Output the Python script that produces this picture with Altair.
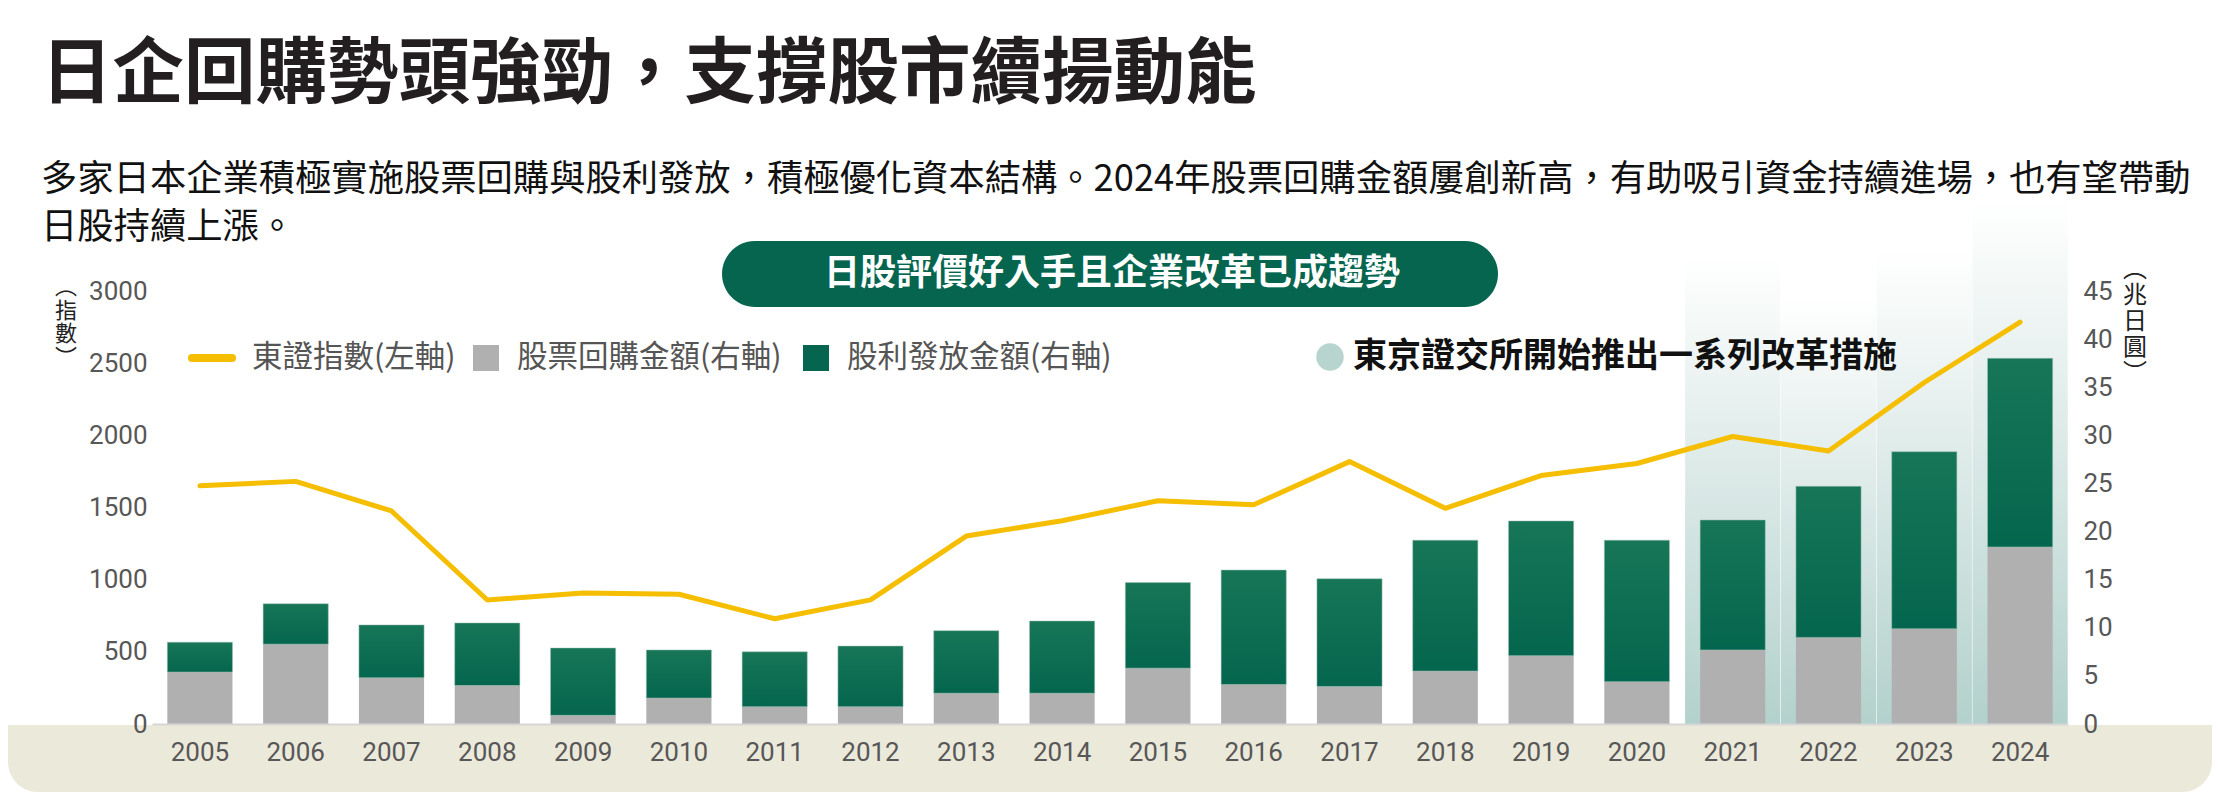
import altair as alt
import pandas as pd

# ---------------- data ----------------
years = list(range(2005, 2025))
topix = [1650, 1681, 1476, 859, 908, 899, 729, 860, 1302, 1408,
         1547, 1519, 1818, 1494, 1721, 1805, 1992, 1892, 2366, 2785]
buyback = [5.4, 8.3, 4.8, 4.0, 0.9, 2.7, 1.8, 1.8, 3.2, 3.2,
           5.8, 4.1, 3.9, 5.5, 7.1, 4.4, 7.7, 9.0, 9.9, 18.4]
dividend = [3.1, 4.2, 5.5, 6.5, 7.0, 5.0, 5.7, 6.3, 6.5, 7.5,
            8.9, 11.9, 11.2, 13.6, 14.0, 14.7, 13.5, 15.7, 18.4, 19.6]
highlight_years = [2021, 2022, 2023, 2024]

title_text = "日企回購勢頭強勁，支撐股市續揚動能"
subtitle_lines = [
    "多家日本企業積極實施股票回購與股利發放，積極優化資本結構。2024年股票回購金額屢創新高，有助吸引資金持續進場，也有望帶動",
    "日股持續上漲。",
]
pill_text = "日股評價好入手且企業改革已成趨勢"
legend_labels = ["東證指數(左軸)", "股票回購金額(右軸)", "股利發放金額(右軸)"]
annotation_text = "東京證交所開始推出一系列改革措施"
left_title = ["︵", "指", "數", "︶"]
right_title = ["︵", "兆", "日", "圓", "︶"]

df = pd.DataFrame({"year": years, "topix": topix, "buyback": buyback, "dividend": dividend})
one = pd.DataFrame({"k": [0]})

CJK = "Noto Sans CJK TC"
NUM = "Roboto"
GREEN = "#05654f"
GRAY = "#b0b0b0"
YELLOW = "#f5be00"
LABEL = "#575757"

W, H = 1916, 433

x_enc = alt.X(
    "year:O",
    scale=alt.Scale(paddingInner=0.32, paddingOuter=0.16),
    axis=alt.Axis(title=None, labelFont=NUM, labelFontSize=26, labelColor=LABEL,
                  labelAngle=0, labelBaseline="middle", labelPadding=28,
                  ticks=False, domain=True, domainColor="#d6d6d6", domainWidth=2,
                  grid=False, zindex=1),
)

right_scale = alt.Scale(domain=[0, 45], nice=False, zero=True)
left_scale = alt.Scale(domain=[0, 3000], nice=False, zero=True)

# ---------------- background band ----------------
beige = alt.Chart(one).mark_rect(
    color="#ebe9da", cornerRadiusBottomLeft=30, cornerRadiusBottomRight=30
).encode(x=alt.value(-144), x2=alt.value(2060), y=alt.value(434), y2=alt.value(501))

# ---------------- highlight columns ----------------
hl_grad = alt.Gradient(
    gradient="linear",
    stops=[alt.GradientStop(color="#ffffff", offset=0),
           alt.GradientStop(color="#b3d1cc", offset=1)],
    x1=0, x2=0, y1=0, y2=1,
)
hl_tops = {2021: -34, 2022: 6, 2023: -41, 2024: -91}
highlights = [
    alt.Chart(df).transform_filter(alt.datum.year == yr).mark_bar(
        color=hl_grad, width=alt.RelativeBandSize(1.462)
    ).encode(x=x_enc, y=alt.value(hl_tops[yr]), y2=alt.value(H))
    for yr in highlight_years
]

# ---------------- bars ----------------
gray_bars = alt.Chart(df).mark_bar(color=GRAY).encode(
    x=x_enc,
    y=alt.Y("buyback:Q", scale=right_scale,
            axis=alt.Axis(orient="right", title=None, format="d",
                          values=list(range(0, 50, 5)), labelFont=NUM,
                          labelFontSize=26, labelColor=LABEL, labelPadding=15,
                          labelAlign="left", labelBaseline="middle",
                          ticks=False, domain=False, grid=False, zindex=1)),
)

green_grad = alt.Gradient(
    gradient="linear",
    stops=[alt.GradientStop(color="#177657", offset=0),
           alt.GradientStop(color="#04664e", offset=1)],
    x1=0, x2=0, y1=0, y2=1,
)
green_bars = alt.Chart(df).transform_calculate(
    total="datum.buyback + datum.dividend"
).mark_bar(color=green_grad, stroke="#9fc2b4", strokeWidth=1, strokeOpacity=0.5).encode(
    x=x_enc,
    y=alt.Y("total:Q", scale=right_scale, axis=None),
    y2="buyback:Q",
)

# ---------------- line ----------------
line = alt.Chart(df).mark_line(
    color=YELLOW, strokeWidth=5, strokeCap="round", strokeJoin="round"
).encode(
    x=x_enc,
    y=alt.Y("topix:Q", scale=left_scale,
            axis=alt.Axis(orient="left", title=None, format="d",
                          values=list(range(0, 3500, 500)), labelFont=NUM,
                          labelFontSize=26, labelColor=LABEL, labelPadding=5,
                          labelBaseline="middle",
                          ticks=False, domain=False, grid=False, zindex=1)),
)


# ---------------- texts & decorations ----------------
def label(text, x, y, size, color, weight="normal", align="left", line_height=None):
    kw = {}
    if line_height is not None:
        kw["lineHeight"] = line_height
    return alt.Chart(one).mark_text(
        align=align, baseline="middle", fontSize=size, fontWeight=weight,
        color=color, font=CJK, **kw
    ).encode(x=alt.value(x), y=alt.value(y), text=alt.value(text))


title = label(title_text, -111, -215, 71.5, "#231f20", weight="bold")
sub1 = label(subtitle_lines[0], -111, -111, 36.3, "#111111")
sub2 = label(subtitle_lines[1], -111, -63, 36.3, "#111111")

pill = alt.Chart(one).mark_rect(color=GREEN, cornerRadius=33).encode(
    x=alt.value(570), x2=alt.value(1346), y=alt.value(-50), y2=alt.value(16))
pill_label = label(pill_text, 960, -17, 36, "#ffffff", weight="bold", align="center")

leg_line = alt.Chart(one).mark_rule(color=YELLOW, strokeWidth=8, strokeCap="round").encode(
    x=alt.value(40), x2=alt.value(80), y=alt.value(67))
leg_t1 = label(legend_labels[0], 100, 67, 30.5, "#555555")
leg_sq1 = alt.Chart(one).mark_rect(color=GRAY).encode(
    x=alt.value(321), x2=alt.value(347), y=alt.value(54), y2=alt.value(80))
leg_t2 = label(legend_labels[1], 365, 67, 30.5, "#555555")
leg_sq2 = alt.Chart(one).mark_rect(color=GREEN).encode(
    x=alt.value(651), x2=alt.value(677), y=alt.value(54), y2=alt.value(80))
leg_t3 = label(legend_labels[2], 695, 67, 30.5, "#555555")

ann_dot = alt.Chart(one).mark_circle(color="#b7d4cf", opacity=1, size=755).encode(
    x=alt.value(1178), y=alt.value(66))
ann_text = label(annotation_text, 1201, 66, 34, "#111111", weight="bold")

# vertical axis titles (units); y is the first line's centre
ytitle_left = label(left_title, -86, -4, 22, "#222222", align="center", line_height=23.5)
ytitle_right = label(right_title, 1983, -21, 24, "#222222", align="center", line_height=26)

chart = alt.layer(
    beige, *highlights, gray_bars, green_bars, line,
    title, sub1, sub2, pill, pill_label,
    leg_line, leg_t1, leg_sq1, leg_t2, leg_sq2, leg_t3,
    ann_dot, ann_text, ytitle_left, ytitle_right,
).resolve_scale(y="independent").properties(
    width=W, height=H,
    padding={"left": 144, "top": 283, "right": 144, "bottom": 68},
    autosize=alt.AutoSizeParams(type="none"),
    background="#ffffff",
).configure_view(stroke=None)

chart.save("out.html", embed_options={"renderer": "svg", "actions": False})
